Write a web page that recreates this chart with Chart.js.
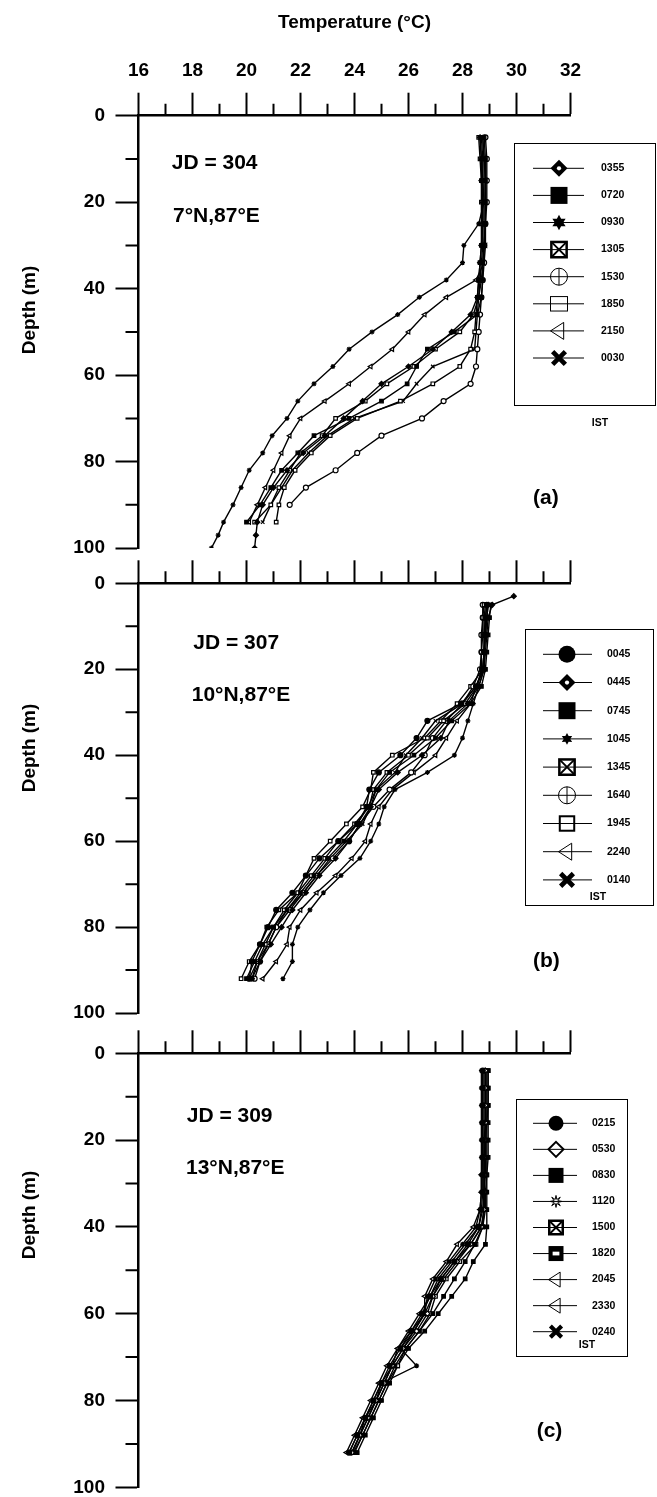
<!DOCTYPE html>
<html>
<head>
<meta charset="utf-8">
<title>Temperature profiles JD 304 / 307 / 309</title>
<script src="https://cdn.jsdelivr.net/npm/chart.js@4.4.1/dist/chart.umd.min.js"></script>
<style>
  html, body { margin: 0; padding: 0; background: #fff; }
  body { position: relative; width: 657px; height: 1497px; overflow: hidden; }
  canvas { position: absolute; left: 0; }
</style>
</head>
<body>
<canvas id="panelA"></canvas>
<canvas id="panelB"></canvas>
<canvas id="panelC"></canvas>
<script>
// axis ticks
const tempTicks = [16, 18, 20, 22, 24, 26, 28, 30, 32];
const tempMinor = [17, 19, 21, 23, 25, 27, 29, 31];
const depthTicks = [0, 20, 40, 60, 80, 100];
const depthMinor = [10, 30, 50, 70, 90];

// (a) JD 304, 7N 87E
const depthA = [5, 10, 15, 20, 25, 30, 34, 38, 42, 46, 50, 54, 58, 62, 66, 70, 74, 78, 82, 86, 90, 94, 97, 100];
const timesA = ['0355', '0720', '0930', '1305', '1530', '1850', '2150', '0030'];
const tA0355 = [28.65, 28.7, 28.7, 28.75, 28.75, 28.7, 28.65, 28.6, 28.55, 28.3, 27.6, 26.9, 26.0, 25.0, 24.3, 23.6, 22.9, 22.1, 21.5, 21.0, 20.6, 20.4, 20.35, 20.3];
const tA0720 = [28.8, 28.85, 28.85, 28.85, 28.85, 28.8, 28.75, 28.75, 28.7, 28.55, 27.7, 26.7, 26.3, 25.95, 25.0, 23.8, 22.5, 21.9, 21.3, 20.9, 20.5, 20.0, null, null];
const tA0930 = [28.75, 28.8, 28.8, 28.8, 28.6, 28.05, 28.0, 27.4, 26.4, 25.6, 24.65, 23.8, 23.2, 22.5, 21.9, 21.5, 20.95, 20.6, 20.1, 19.8, 19.5, 19.15, 18.95, 18.7];
const tA1305 = [28.6, 28.65, 28.7, 28.7, 28.7, 28.7, 28.65, 28.6, 28.55, 28.5, 28.45, 28.3, 27.9, 26.9, 25.7, 24.1, 23.1, 22.4, 21.8, 21.4, 21.2, 21.1, null, null];
const tA1530 = [28.85, 28.9, 28.9, 28.9, 28.85, 28.8, 28.8, 28.75, 28.7, 28.65, 28.6, 28.55, 28.5, 28.3, 27.3, 26.5, 25.0, 24.1, 23.3, 22.2, 21.6, null, null, null];
const tA1850 = [28.7, 28.75, 28.75, 28.8, 28.8, 28.8, 28.75, 28.7, 28.6, 28.4, 27.9, 27.0, 26.2, 25.2, 24.4, 23.3, 22.8, 22.0, 21.6, 21.2, 20.9, 20.3, null, null];
const tA2150 = [28.75, 28.8, 28.85, 28.85, 28.85, 28.85, 28.8, 28.5, 27.4, 26.6, 26.0, 25.4, 24.6, 23.8, 22.9, 22.0, 21.6, 21.3, 21.0, 20.7, 20.4, 20.1, null, null];
const tA0030 = [28.65, 28.7, 28.75, 28.75, 28.75, 28.75, 28.7, 28.65, 28.6, 28.55, 28.5, 28.45, 26.9, 26.3, 25.8, 24.0, 23.0, 22.3, 21.7, 21.3, 20.9, 20.6, null, null];

// (b) JD 307, 10N 87E
const depthB = [3, 5, 8, 12, 16, 20, 24, 28, 32, 36, 40, 44, 48, 52, 56, 60, 64, 68, 72, 76, 80, 84, 88, 92];
const timesB = ['0045', '0445', '0745', '1045', '1345', '1640', '1945', '2240', '0140'];
const tB0045 = [null, 28.9, 28.85, 28.8, 28.8, 28.75, 28.5, 27.95, 26.7, 26.3, 25.7, 24.9, 24.55, 24.45, 24.1, 23.4, 22.7, 22.2, 21.7, 21.1, 20.8, 20.5, 20.2, 20.1];
const tB0445 = [29.9, 29.1, 28.95, 28.9, 28.85, 28.8, 28.6, 28.2, 27.5, 27.2, 26.5, 25.6, 24.9, 24.6, 24.2, 23.8, 23.3, 22.7, 22.2, 21.7, 21.3, 20.9, 20.5, 20.2];
const tB0745 = [null, 29.05, 29.0, 28.95, 28.9, 28.85, 28.7, 28.3, 27.6, 27.0, 26.2, 25.3, 24.8, 24.5, 24.1, 23.6, 23.0, 22.5, 22.0, 21.5, 21.0, 20.6, 20.3, 20.0];
const tB1045 = [null, 28.95, 28.9, 28.85, 28.8, 28.8, 28.6, 28.4, 28.2, 28.0, 27.7, 26.7, 25.5, 25.1, 24.9, 24.6, 24.2, 23.5, 22.85, 22.35, 21.9, 21.7, 21.7, 21.35];
const tB1345 = [null, 28.8, 28.75, 28.75, 28.7, 28.7, 28.55, 28.1, 27.3, 26.7, 26.0, 25.2, 24.7, 24.55, 24.0, 23.4, 22.9, 22.4, 21.9, 21.4, 21.0, 20.7, 20.4, 20.2];
const tB1640 = [null, 28.75, 28.75, 28.7, 28.7, 28.65, 28.4, 28.0, 27.4, 26.9, 26.6, 26.1, 25.3, 24.7, 24.2, 23.8, 23.2, 22.6, 22.1, 21.6, 21.1, 20.8, 20.5, 20.3];
const tB1945 = [null, 28.85, 28.8, 28.8, 28.8, 28.75, 28.3, 27.8, 27.2, 26.6, 25.4, 24.7, 24.6, 24.3, 23.7, 23.1, 22.5, 22.2, 21.9, 21.2, 20.75, 20.5, 20.1, 19.8];
const tB2240 = [null, 28.9, 28.85, 28.85, 28.8, 28.8, 28.5, 28.3, 27.8, 27.4, 27.0, 26.2, 25.4, 24.9, 24.6, 24.4, 23.9, 23.3, 22.6, 22.0, 21.6, 21.5, 21.1, 20.6];
const tB0140 = [null, 28.95, 28.9, 28.85, 28.8, 28.75, 28.5, 28.0, 27.0, 26.5, 25.9, 25.5, 24.8, 24.6, 24.3, 23.7, 23.1, 22.6, 22.1, 21.5, 21.1, 20.8, 20.4, 20.1];

// (c) JD 309, 13N 87E
const depthC = [4, 8, 12, 16, 20, 24, 28, 32, 36, 40, 44, 48, 52, 56, 60, 64, 68, 72, 76, 80, 84, 88, 92];
const timesC = ['0215', '0530', '0830', '1120', '1500', '1820', '2045', '2330', '0240'];
const tC0215 = [28.75, 28.75, 28.75, 28.75, 28.75, 28.75, 28.75, 28.75, 28.7, 28.6, 28.2, 27.7, 27.2, 26.8, 26.5, 26.1, 25.7, 25.3, 25.0, 24.7, 24.4, 24.1, 23.8];
const tC0530 = [28.85, 28.85, 28.85, 28.85, 28.8, 28.8, 28.8, 28.8, 28.8, 28.7, 28.3, 27.8, 27.3, 26.9, 26.7, 26.3, 25.8, 25.4, 25.1, 24.8, 24.5, 24.2, 23.9];
const tC0830 = [28.95, 28.95, 28.95, 28.9, 28.9, 28.9, 28.9, 28.85, 28.85, 28.75, 28.45, 28.1, 27.7, 27.3, 26.9, 26.4, 25.9, 25.5, 25.2, 24.9, 24.6, 24.3, 24.0];
const tC1120 = [28.7, 28.7, 28.7, 28.7, 28.7, 28.7, 28.7, 28.7, 28.65, 28.5, 28.0, 27.5, 27.0, 26.7, 26.6, 26.2, 25.7, 26.3, 25.0, 24.8, 24.4, 24.2, 23.9];
const tC1500 = [28.85, 28.85, 28.85, 28.85, 28.85, 28.8, 28.8, 28.8, 28.8, 28.75, 28.5, 27.9, 27.4, 27.0, 26.8, 26.4, 25.9, 25.6, 25.2, 24.9, 24.6, 24.3, 23.95];
const tC1820 = [28.95, 28.95, 28.95, 28.95, 28.95, 28.95, 28.9, 28.9, 28.9, 28.9, 28.85, 28.4, 28.1, 27.6, 27.1, 26.6, 26.0, 25.6, 25.3, 25.0, 24.7, 24.4, 24.1];
const tC2045 = [28.75, 28.75, 28.75, 28.75, 28.75, 28.75, 28.7, 28.7, 28.65, 28.4, 27.8, 27.4, 26.9, 26.6, 26.6, 26.1, 25.6, 25.4, 25.0, 24.7, 24.4, 24.1, 23.8];
const tC2330 = [28.8, 28.8, 28.8, 28.8, 28.8, 28.8, 28.8, 28.8, 28.75, 28.6, 28.1, 27.6, 27.1, 26.8, 26.4, 26.0, 25.6, 25.2, 24.9, 24.6, 24.3, 24.0, 23.7];
const tC0240 = [28.9, 28.9, 28.9, 28.9, 28.85, 28.85, 28.85, 28.8, 28.8, 28.7, 28.3, 27.7, 27.2, 26.9, 26.6, 26.2, 25.8, 25.4, 25.1, 24.8, 24.5, 24.2, 23.9];

const FONT = "'Liberation Sans', Arial, sans-serif";
const AXIS_LEFT = 138.5;
const AXIS_RIGHT = 570.5;

// chart.js point style for each marker kind: [style, filled, rotation]
const plotStyle = {
  circleFilled: ['circle', true, 0],
  circlePlus: ['circle', false, 0],
  diamondDot: ['rectRot', true, 0],
  diamondOpen: ['rectRot', false, 0],
  squareFilled: ['rect', true, 0],
  squareBoldDot: ['rect', true, 0],
  squareX: ['rect', false, 0],
  squareOpen: ['rect', false, 0],
  squareOpenBold: ['rect', false, 0],
  starFilled: ['star', true, 0],
  starSmall: ['star', true, 0],
  asteriskThin: ['star', false, 0],
  triLeft: ['triangle', false, -90],
  xBold: ['crossRot', true, 0]
};

// bigger legend symbols
function drawMark(ctx, kind, x, y, r) {
  ctx.save();
  ctx.strokeStyle = '#000';
  ctx.fillStyle = '#000';
  ctx.lineWidth = 1;
  ctx.beginPath();
  if (kind === 'circleFilled') {
    ctx.arc(x, y, r, 0, Math.PI * 2);
    ctx.fill();
  } else if (kind === 'circlePlus') {
    ctx.arc(x, y, r, 0, Math.PI * 2);
    ctx.moveTo(x, y - r);
    ctx.lineTo(x, y + r);
    ctx.stroke();
  } else if (kind === 'diamondDot') {
    ctx.moveTo(x, y - r); ctx.lineTo(x + r, y); ctx.lineTo(x, y + r); ctx.lineTo(x - r, y);
    ctx.closePath();
    ctx.fill();
    ctx.fillStyle = '#fff';
    ctx.beginPath();
    ctx.arc(x, y, r * 0.25, 0, Math.PI * 2);
    ctx.fill();
  } else if (kind === 'diamondOpen') {
    ctx.lineWidth = 2;
    ctx.moveTo(x, y - r); ctx.lineTo(x + r, y); ctx.lineTo(x, y + r); ctx.lineTo(x - r, y);
    ctx.closePath();
    ctx.stroke();
  } else if (kind === 'squareFilled') {
    ctx.fillRect(x - r, y - r, 2 * r, 2 * r);
  } else if (kind === 'squareBoldDot') {
    ctx.fillRect(x - r, y - r, 2 * r, 2 * r);
    ctx.fillStyle = '#fff';
    ctx.fillRect(x - r * 0.45, y - r * 0.25, r * 0.9, r * 0.5);
  } else if (kind === 'squareX') {
    const s = r * 0.9;
    ctx.lineWidth = 2.5;
    ctx.strokeRect(x - s, y - s, 2 * s, 2 * s);
    ctx.lineWidth = 1.8;
    ctx.moveTo(x - s, y - s); ctx.lineTo(x + s, y + s);
    ctx.moveTo(x + s, y - s); ctx.lineTo(x - s, y + s);
    ctx.stroke();
  } else if (kind === 'squareOpen') {
    ctx.strokeRect(x - r, y - r * 0.85, 2 * r, 1.7 * r);
  } else if (kind === 'squareOpenBold') {
    ctx.lineWidth = 2;
    ctx.strokeRect(x - r * 0.85, y - r * 0.85, 1.7 * r, 1.7 * r);
  } else if (kind === 'triLeft') {
    ctx.moveTo(x - r, y);
    ctx.lineTo(x + r * 0.55, y - r);
    ctx.lineTo(x + r * 0.55, y + r);
    ctx.closePath();
    ctx.stroke();
  } else if (kind === 'xBold') {
    const s = r * 0.75;
    ctx.lineWidth = r * 0.55;
    ctx.moveTo(x - s, y - s); ctx.lineTo(x + s, y + s);
    ctx.moveTo(x + s, y - s); ctx.lineTo(x - s, y + s);
    ctx.stroke();
  } else if (kind === 'starFilled' || kind === 'starSmall') {
    const ro = kind === 'starFilled' ? r * 0.9 : r * 0.7;
    for (let k = 0; k < 12; k++) {
      const a = k * Math.PI / 6 - Math.PI / 2;
      const rr = k % 2 === 0 ? ro : ro * 0.55;
      if (k === 0) ctx.moveTo(x + rr * Math.cos(a), y + rr * Math.sin(a));
      else ctx.lineTo(x + rr * Math.cos(a), y + rr * Math.sin(a));
    }
    ctx.closePath();
    ctx.fill();
  } else if (kind === 'asteriskThin') {
    const ro = r * 0.8;
    for (let k = 0; k < 16; k++) {
      const a = k * Math.PI / 8 - Math.PI / 2;
      const rr = k % 2 === 0 ? ro : ro * 0.35;
      if (k === 0) ctx.moveTo(x + rr * Math.cos(a), y + rr * Math.sin(a));
      else ctx.lineTo(x + rr * Math.cos(a), y + rr * Math.sin(a));
    }
    ctx.closePath();
    ctx.stroke();
  }
  ctx.restore();
}

// small ticks between the labelled ones
const minorTicks = {
  id: 'minorTicks',
  afterDraw(chart) {
    const { ctx, chartArea, scales } = chart;
    ctx.save();
    ctx.strokeStyle = '#000';
    ctx.lineWidth = 2;
    ctx.beginPath();
    tempMinor.forEach(v => {
      const px = scales.x.getPixelForValue(v);
      ctx.moveTo(px, chartArea.top);
      ctx.lineTo(px, chartArea.top - 12);
    });
    depthMinor.forEach(v => {
      const py = scales.y.getPixelForValue(v);
      ctx.moveTo(chartArea.left, py);
      ctx.lineTo(chartArea.left - 13, py);
    });
    ctx.stroke();
    ctx.restore();
  }
};

// boxed legend inside the plot
const legendBox = {
  id: 'legendBox',
  afterDraw(chart, args, o) {
    const ctx = chart.ctx;
    const off = o.top;
    ctx.save();
    ctx.strokeStyle = '#000';
    ctx.lineWidth = 1;
    ctx.strokeRect(o.x + 0.5, o.y - off + 0.5, o.w, o.h);
    chart.data.datasets.forEach((ds, i) => {
      const y = o.row0 + i * o.step - off;
      ctx.beginPath();
      ctx.lineWidth = 1;
      ctx.strokeStyle = '#000';
      ctx.moveTo(o.lineX1, y);
      ctx.lineTo(o.lineX2, y);
      ctx.stroke();
      drawMark(ctx, ds.kind, o.markX, y, o.r);
      ctx.fillStyle = '#000';
      ctx.font = `bold ${o.fs}px ${FONT}`;
      ctx.textAlign = 'left';
      ctx.textBaseline = 'middle';
      ctx.fillText(ds.label, o.textX, y);
    });
    ctx.textAlign = 'center';
    ctx.fillText('IST', o.istX, o.istY - off);
    ctx.restore();
  }
};

// free text: JD, position, panel letter, depth title
const notes = {
  id: 'notes',
  afterDraw(chart, args, o) {
    const ctx = chart.ctx;
    o.items.forEach(n => {
      ctx.save();
      ctx.font = `bold ${n.size}px ${FONT}`;
      ctx.fillStyle = '#000';
      ctx.textBaseline = 'middle';
      ctx.translate(n.x, n.y - o.top);
      if (n.rot) {
        ctx.rotate(n.rot * Math.PI / 180);
        ctx.textAlign = 'center';
      } else {
        ctx.textAlign = 'left';
      }
      ctx.fillText(n.text, 0, 0);
      ctx.restore();
    });
  }
};

function makePanel(p) {
  const canvas = document.getElementById(p.canvasId);
  canvas.width = 657;
  canvas.height = p.height;
  canvas.style.top = p.top + 'px';
  canvas.style.width = '657px';
  canvas.style.height = p.height + 'px';

  const datasets = p.series.map((temps, i) => {
    const [ps, filled, rot] = plotStyle[p.kinds[i]];
    const pts = [];
    temps.forEach((t, j) => {
      if (t !== null) pts.push({ x: t, y: p.depths[j] });
    });
    return {
      label: p.times[i],
      kind: p.kinds[i],
      data: pts,
      showLine: true,
      borderColor: '#000',
      borderWidth: 1.4,
      tension: 0,
      pointStyle: ps,
      pointRotation: rot,
      pointRadius: 2.5,
      pointBorderWidth: 1.2,
      pointBorderColor: '#000',
      pointBackgroundColor: filled ? '#000' : '#fff'
    };
  });

  const tickFont = { family: FONT, size: 19, weight: 'bold' };

  new Chart(canvas, {
    type: 'scatter',
    data: { datasets },
    options: {
      responsive: false,
      animation: false,
      devicePixelRatio: 1,
      layout: {
        padding: { left: 0, top: 0, right: 657 - AXIS_RIGHT, bottom: p.top + p.height - p.areaBottom }
      },
      plugins: {
        legend: { display: false },
        tooltip: { enabled: false },
        legendBox: Object.assign({ top: p.top }, p.legend),
        notes: { top: p.top, items: p.notes }
      },
      scales: {
        x: {
          type: 'linear',
          position: 'top',
          min: 16,
          max: 32,
          afterBuildTicks: s => { s.ticks = tempTicks.map(v => ({ value: v })); },
          afterFit: s => { s.height = p.areaTop - p.top; },
          ticks: { display: p.showLabels, font: tickFont, color: '#000', padding: 11 },
          grid: { display: true, drawOnChartArea: false, drawTicks: true, tickLength: 23, tickWidth: 2, tickColor: '#000' },
          border: { display: true, color: '#000', width: 2.5 },
          title: {
            display: p.showLabels,
            text: 'Temperature (°C)',
            font: tickFont,
            color: '#000',
            padding: { top: 11, bottom: 0 }
          }
        },
        y: {
          type: 'linear',
          position: 'left',
          reverse: true,
          min: 0,
          max: 100,
          afterBuildTicks: s => { s.ticks = depthTicks.map(v => ({ value: v })); },
          afterFit: s => { s.width = AXIS_LEFT; },
          ticks: { font: tickFont, color: '#000', padding: 10.5 },
          grid: { display: true, drawOnChartArea: false, drawTicks: true, tickLength: 23, tickWidth: 2, tickColor: '#000' },
          border: { display: true, color: '#000', width: 2.5 }
        }
      }
    },
    plugins: [minorTicks, legendBox, notes]
  });
}

makePanel({
  canvasId: 'panelA', top: 0, height: 570, areaTop: 115.7, areaBottom: 550, showLabels: true,
  depths: depthA, times: timesA,
  series: [tA0355, tA0720, tA0930, tA1305, tA1530, tA1850, tA2150, tA0030],
  kinds: ['diamondDot', 'squareFilled', 'starFilled', 'squareX', 'circlePlus', 'squareOpen', 'triLeft', 'xBold'],
  legend: { x: 514, y: 143, w: 141, h: 262, row0: 168.3, step: 27.1, lineX1: 533, lineX2: 584, markX: 559, textX: 601, r: 8.5, fs: 10.5, istX: 600, istY: 423 },
  notes: [
    { text: 'JD = 304', x: 171.7, y: 163.3, size: 21 },
    { text: '7°N,87°E', x: 173, y: 216.7, size: 21 },
    { text: '(a)', x: 533, y: 498, size: 21 },
    { text: 'Depth (m)', x: 30, y: 310, size: 19, rot: -90 }
  ]
});

makePanel({
  canvasId: 'panelB', top: 540, height: 495, areaTop: 583.3, areaBottom: 1016.7, showLabels: false,
  depths: depthB, times: timesB,
  series: [tB0045, tB0445, tB0745, tB1045, tB1345, tB1640, tB1945, tB2240, tB0140],
  kinds: ['circleFilled', 'diamondDot', 'squareFilled', 'starSmall', 'squareX', 'circlePlus', 'squareOpenBold', 'triLeft', 'xBold'],
  legend: { x: 525, y: 629, w: 128, h: 276, row0: 654.3, step: 28.2, lineX1: 543, lineX2: 592, markX: 567, textX: 607, r: 8.5, fs: 10.5, istX: 598, istY: 897 },
  notes: [
    { text: 'JD = 307', x: 193.3, y: 643.3, size: 21 },
    { text: '10°N,87°E', x: 191.7, y: 695, size: 21 },
    { text: '(b)', x: 533, y: 961.7, size: 21 },
    { text: 'Depth (m)', x: 30, y: 748, size: 19, rot: -90 }
  ]
});

makePanel({
  canvasId: 'panelC', top: 1010, height: 505, areaTop: 1053.3, areaBottom: 1487.3, showLabels: false,
  depths: depthC, times: timesC,
  series: [tC0215, tC0530, tC0830, tC1120, tC1500, tC1820, tC2045, tC2330, tC0240],
  kinds: ['circleFilled', 'diamondOpen', 'squareFilled', 'asteriskThin', 'squareX', 'squareBoldDot', 'triLeft', 'triLeft', 'xBold'],
  legend: { x: 516, y: 1099, w: 111, h: 257, row0: 1123.3, step: 26.05, lineX1: 533, lineX2: 577, markX: 556, textX: 592, r: 7.5, fs: 10.5, istX: 587, istY: 1345 },
  notes: [
    { text: 'JD = 309', x: 186.7, y: 1116.7, size: 21 },
    { text: '13°N,87°E', x: 186, y: 1168.3, size: 21 },
    { text: '(c)', x: 536.7, y: 1431.7, size: 21 },
    { text: 'Depth (m)', x: 30, y: 1215, size: 19, rot: -90 }
  ]
});
</script>
</body>
</html>
